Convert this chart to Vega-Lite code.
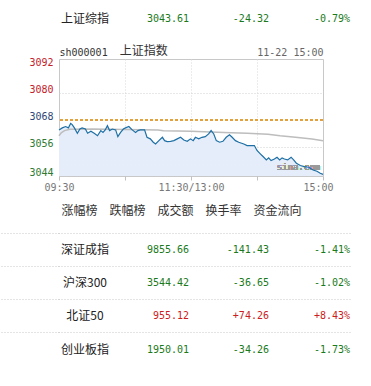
{
  "$schema": "https://vega.github.io/schema/vega-lite/v6.json",
  "padding": 0,
  "background": "#ffffff",
  "spacing": 15,
  "vconcat": [
    {
      "spacing": 0,
      "vconcat": [
        {
          "width": 300,
          "height": 37,
          "data": {"values": [
            {"name": "上证综指", "last": 3043.61, "chg": -24.32, "pct": -0.0079}
          ]},
          "layer": [
            {
              "mark": {"type": "text", "font": "DejaVu Sans Mono", "fontSize": 10, "align": "right", "baseline": "middle", "dx": 33.7},
              "encoding": {
                "x": {"datum": "last", "type": "nominal", "scale": {"type": "point", "domain": ["name", "last", "chg", "pct"], "range": [-1, 291], "padding": 0}, "axis": null},
                "y": {"field": "name", "type": "nominal", "sort": null, "scale": {"type": "band", "paddingInner": 0, "paddingOuter": 0}, "axis": null},
                "text": {"field": "last", "format": ".2f"},
                "color": {"condition": {"test": "datum.chg > 0", "value": "#cc1c1c"}, "value": "#1a7a1a"}
              }
            },
            {
              "mark": {"type": "text", "font": "Noto Sans CJK SC", "fontSize": 12, "color": "#222222", "align": "center", "baseline": "middle", "dx": 27},
              "encoding": {
                "x": {"datum": "name", "type": "nominal"},
                "y": {"field": "name", "type": "nominal", "sort": null},
                "text": {"field": "name"}
              }
            },
            {
              "mark": {"type": "text", "font": "DejaVu Sans Mono", "fontSize": 10, "align": "right", "baseline": "middle", "dx": 16.3},
              "encoding": {
                "x": {"datum": "chg", "type": "nominal"},
                "y": {"field": "name", "type": "nominal", "sort": null},
                "text": {"field": "chg", "format": "+.2f"},
                "color": {"condition": {"test": "datum.chg > 0", "value": "#cc1c1c"}, "value": "#1a7a1a"}
              }
            },
            {
              "mark": {"type": "text", "font": "DejaVu Sans Mono", "fontSize": 10, "align": "right", "baseline": "middle"},
              "encoding": {
                "x": {"datum": "pct", "type": "nominal"},
                "y": {"field": "name", "type": "nominal", "sort": null},
                "text": {"field": "pct", "format": "+.2%"},
                "color": {"condition": {"test": "datum.chg > 0", "value": "#cc1c1c"}, "value": "#1a7a1a"}
              }
            }
          ]
        },
        {
          "width": 264,
          "height": 117,
          "view": {"stroke": "#c8c8c8"},
          "data": {"values": [
            {"t": 0, "v": 3063.5}, {"t": 3, "v": 3064.4}, {"t": 6, "v": 3065.0}, {"t": 8.5, "v": 3064.4},
            {"t": 10.6, "v": 3066.4}, {"t": 12, "v": 3065.9}, {"t": 14, "v": 3064.4}, {"t": 16.7, "v": 3062.0},
            {"t": 19, "v": 3063.9}, {"t": 21, "v": 3064.4}, {"t": 24, "v": 3063.9}, {"t": 26, "v": 3062.0},
            {"t": 29, "v": 3062.9}, {"t": 32, "v": 3062.0}, {"t": 35, "v": 3060.9}, {"t": 38, "v": 3063.2},
            {"t": 40, "v": 3062.4}, {"t": 42, "v": 3063.5}, {"t": 44, "v": 3065.4}, {"t": 46, "v": 3063.2},
            {"t": 48.5, "v": 3063.9}, {"t": 51.5, "v": 3063.5}, {"t": 53.5, "v": 3060.5}, {"t": 56, "v": 3062.4},
            {"t": 58.5, "v": 3063.9}, {"t": 60.5, "v": 3064.4}, {"t": 63.5, "v": 3065.0}, {"t": 66.6, "v": 3063.5},
            {"t": 69.6, "v": 3062.4}, {"t": 71.7, "v": 3063.2}, {"t": 74, "v": 3063.5}, {"t": 77.8, "v": 3063.5},
            {"t": 80, "v": 3060.2}, {"t": 83, "v": 3059.5}, {"t": 85.7, "v": 3058.0}, {"t": 87.8, "v": 3057.2},
            {"t": 90.8, "v": 3058.7}, {"t": 94, "v": 3060.2}, {"t": 96, "v": 3058.7}, {"t": 98.4, "v": 3058.3},
            {"t": 101.4, "v": 3058.4}, {"t": 104.4, "v": 3058.7}, {"t": 107.5, "v": 3059.5}, {"t": 110.5, "v": 3060.2},
            {"t": 113.5, "v": 3059.0}, {"t": 116.6, "v": 3058.4}, {"t": 119.5, "v": 3059.5}, {"t": 122, "v": 3058.7},
            {"t": 124, "v": 3060.2}, {"t": 127, "v": 3059.5}, {"t": 130, "v": 3060.2}, {"t": 133, "v": 3060.5},
            {"t": 136, "v": 3061.7}, {"t": 138.3, "v": 3063.2}, {"t": 140.7, "v": 3061.7}, {"t": 143, "v": 3058.7},
            {"t": 146, "v": 3058.0}, {"t": 149, "v": 3058.4}, {"t": 152, "v": 3060.2}, {"t": 155, "v": 3061.3},
            {"t": 157.4, "v": 3060.2}, {"t": 160.4, "v": 3058.7}, {"t": 163.4, "v": 3058.0}, {"t": 168, "v": 3057.2},
            {"t": 171, "v": 3056.5}, {"t": 177.6, "v": 3056.5}, {"t": 180, "v": 3054.3}, {"t": 183, "v": 3052.8},
            {"t": 185.5, "v": 3051.6}, {"t": 188.5, "v": 3050.1}, {"t": 190.6, "v": 3051.0}, {"t": 192.8, "v": 3049.8},
            {"t": 195.8, "v": 3050.5}, {"t": 198.2, "v": 3051.3}, {"t": 200.6, "v": 3050.1}, {"t": 202.8, "v": 3051.0},
            {"t": 204.9, "v": 3050.5}, {"t": 207.9, "v": 3050.1}, {"t": 211, "v": 3051.3}, {"t": 213.3, "v": 3050.1},
            {"t": 215.8, "v": 3048.6}, {"t": 219.4, "v": 3047.6}, {"t": 223, "v": 3047.1}, {"t": 227, "v": 3046.8},
            {"t": 231, "v": 3045.6}, {"t": 234.5, "v": 3045.0}, {"t": 237.5, "v": 3044.1}, {"t": 240, "v": 3043.61}
          ]},
          "layer": [
            {
              "mark": {"type": "area", "line": false, "opacity": 1, "clip": true, "fill": {"gradient": "linear", "x1": 0, "y1": 0, "x2": 0, "y2": 1, "stops": [{"offset": 0, "color": "#e4edf9"}, {"offset": 1, "color": "#f4f8fd"}]}},
              "encoding": {
                "x": {
                  "field": "t", "type": "quantitative",
                  "scale": {"domain": [0, 240], "nice": false, "zero": false},
                  "axis": {
                    "values": [0, 60, 120, 180, 240],
                    "tickCount": 5,
                    "labelExpr": "datum.value == 0 ? '09:30' : datum.value == 120 ? '11:30/13:00' : datum.value == 240 ? '15:00' : ''",
                    "labelFont": "DejaVu Sans Mono", "labelFontSize": 10, "labelColor": "#777777",
                    "labelOffset": {"condition": {"test": "datum.value == 240", "value": -5}, "value": 0},
                    "labelPadding": 2, "labelOverlap": false, "labelBound": false, "labelFlush": false,
                    "ticks": true, "tickSize": 4, "tickColor": "#c0c0c0",
                    "domain": false,
                    "grid": true, "gridColor": "#d8d8d8", "gridDash": [1, 2],
                    "gridOpacity": {"condition": {"test": "datum.value == 0 || datum.value == 240", "value": 0}, "value": 1},
                    "title": "涨幅榜　跌幅榜　成交额　换手率　资金流向",
                    "titleFont": "Noto Sans CJK SC", "titleFontSize": 12, "titleFontWeight": "normal", "titleColor": "#333333",
                    "titlePadding": 13, "titleX": 122, "titleAlign": "center", "titleBaseline": "top"
                  }
                },
                "y": {
                  "field": "v", "type": "quantitative",
                  "scale": {"domain": [3042.9, 3095.2], "nice": false, "zero": false},
                  "axis": {
                    "values": [3044, 3056, 3068, 3080, 3092],
                    "tickCount": 5,
                    "format": "d",
                    "title": null, "ticks": false, "domain": false,
                    "labelFont": "DejaVu Sans Mono", "labelFontSize": 10,
                    "labelOverlap": false, "labelBound": false, "labelFlush": false,
                    "labelColor": {"condition": [{"test": "datum.value > 3070", "value": "#c4202a"}, {"test": "datum.value > 3060", "value": "#2f4778"}], "value": "#2e7a32"},
                    "labelOffset": {"condition": {"test": "datum.value == 3044", "value": -1}, "value": -3.5},
                    "labelPadding": 6,
                    "grid": true, "gridColor": "#d0d0d0", "gridDash": [1, 2],
                    "gridOpacity": {"condition": {"test": "datum.value == 3056 || datum.value == 3080", "value": 1}, "value": 0},
                    "minExtent": 58, "maxExtent": 58
                  }
                }
              }
            },
            {
              "data": {"values": [
                {"t": 0, "v": 3060.9}, {"t": 2, "v": 3062.2}, {"t": 5, "v": 3063.2}, {"t": 10, "v": 3063.8},
                {"t": 30, "v": 3063.9}, {"t": 60, "v": 3063.7}, {"t": 90, "v": 3063.5}, {"t": 95, "v": 3063.1},
                {"t": 120, "v": 3062.9}, {"t": 150, "v": 3062.4}, {"t": 171, "v": 3062.0}, {"t": 190, "v": 3061.6},
                {"t": 201, "v": 3060.9}, {"t": 215, "v": 3060.2}, {"t": 230, "v": 3059.4}, {"t": 240, "v": 3058.7}
              ]},
              "mark": {"type": "line", "color": "#bdbdbd", "strokeWidth": 1.5},
              "encoding": {
                "x": {
                  "field": "t", "type": "quantitative",
                  "axis": {
                    "orient": "top",
                    "values": [0, 54.8, 240],
                    "tickCount": 3,
                    "labelExpr": "datum.value == 0 ? 'sh000001' : datum.value == 240 ? '11-22 15:00' : '上证指数'",
                    "labelAlign": {"condition": {"test": "datum.value == 240", "value": "right"}, "value": "left"},
                    "labelFont": {"condition": {"test": "datum.value > 1 && datum.value < 200", "value": "Noto Sans CJK SC"}, "value": "DejaVu Sans Mono"},
                    "labelFontSize": {"condition": {"test": "datum.value > 1 && datum.value < 200", "value": 12}, "value": 10},
                    "labelColor": {"condition": {"test": "datum.value == 240", "value": "#666666"}, "value": "#333333"},
                    "labelPadding": 2, "ticks": false, "domain": false, "grid": false, "title": null,
                    "labelOverlap": false, "labelBound": false, "labelFlush": false,
                    "minExtent": 21.3, "maxExtent": 21.3
                  }
                },
                "y": {"field": "v", "type": "quantitative"}
              }
            },
            {
              "mark": {"type": "rule", "color": "#e3a03c", "strokeDash": [3, 2], "strokeWidth": 1},
              "encoding": {"y": {"datum": 3067.93}}
            },
            {
              "mark": {"type": "text", "text": "sina.com", "font": "DejaVu Sans Mono", "fontSize": 9, "color": "#999999", "align": "right", "baseline": "middle", "dx": -3},
              "encoding": {
                "x": {"datum": 240, "type": "quantitative", "axis": null},
                "y": {"datum": 3047.1, "type": "quantitative"}
              }
            },
            {
              "mark": {"type": "line", "color": "#1d6fa5", "strokeWidth": 1.2},
              "encoding": {
                "x": {"field": "t", "type": "quantitative", "axis": null},
                "y": {"field": "v", "type": "quantitative"}
              }
            }
          ],
          "resolve": {"axis": {"x": "independent"}}
        }
      ]
    },
    {
      "width": 300,
      "height": 133.3,
      "data": {"values": [
        {"name": "深证成指", "last": 9855.66, "chg": -141.43, "pct": -0.0141},
        {"name": "沪深300", "last": 3544.42, "chg": -36.65, "pct": -0.0102},
        {"name": "北证50", "last": 955.12, "chg": 74.26, "pct": 0.0843},
        {"name": "创业板指", "last": 1950.01, "chg": -34.26, "pct": -0.0173}
      ]},
      "layer": [
        {
          "mark": {"type": "text", "font": "DejaVu Sans Mono", "fontSize": 10, "align": "right", "baseline": "middle", "dx": 33.7},
          "encoding": {
            "x": {"datum": "last", "type": "nominal", "scale": {"type": "point", "domain": ["name", "last", "chg", "pct"], "range": [-1, 291], "padding": 0}, "axis": null},
            "y": {
              "field": "name", "type": "nominal", "sort": null,
              "scale": {"type": "band", "paddingInner": 0, "paddingOuter": 0},
              "axis": {
                "labels": false, "title": null, "domain": false,
                "bandPosition": 0,
                "ticks": true, "tickSize": 58, "tickColor": "#c8c8c8", "tickDash": [1, 2], "tickWidth": 1,
                "grid": true, "gridColor": "#c8c8c8", "gridDash": [1, 2], "gridWidth": 1
              }
            },
            "text": {"field": "last", "format": ".2f"},
            "color": {"condition": {"test": "datum.chg > 0", "value": "#cc1c1c"}, "value": "#1a7a1a"}
          }
        },
        {
          "mark": {"type": "text", "font": "Noto Sans CJK SC", "fontSize": 12, "color": "#222222", "align": "center", "baseline": "middle", "dx": 27},
          "encoding": {
            "x": {"datum": "name", "type": "nominal"},
            "y": {"field": "name", "type": "nominal", "sort": null},
            "text": {"field": "name"}
          }
        },
        {
          "mark": {"type": "text", "font": "DejaVu Sans Mono", "fontSize": 10, "align": "right", "baseline": "middle", "dx": 16.3},
          "encoding": {
            "x": {"datum": "chg", "type": "nominal"},
            "y": {"field": "name", "type": "nominal", "sort": null},
            "text": {"field": "chg", "format": "+.2f"},
            "color": {"condition": {"test": "datum.chg > 0", "value": "#cc1c1c"}, "value": "#1a7a1a"}
          }
        },
        {
          "mark": {"type": "text", "font": "DejaVu Sans Mono", "fontSize": 10, "align": "right", "baseline": "middle"},
          "encoding": {
            "x": {"datum": "pct", "type": "nominal"},
            "y": {"field": "name", "type": "nominal", "sort": null},
            "text": {"field": "pct", "format": "+.2%"},
            "color": {"condition": {"test": "datum.chg > 0", "value": "#cc1c1c"}, "value": "#1a7a1a"}
          }
        }
      ]
    }
  ],
  "config": {
    "view": {"stroke": null},
    "locale": {"number": {"decimal": ".", "thousands": ",", "grouping": [3], "currency": ["", ""], "minus": "-"}}
  }
}
